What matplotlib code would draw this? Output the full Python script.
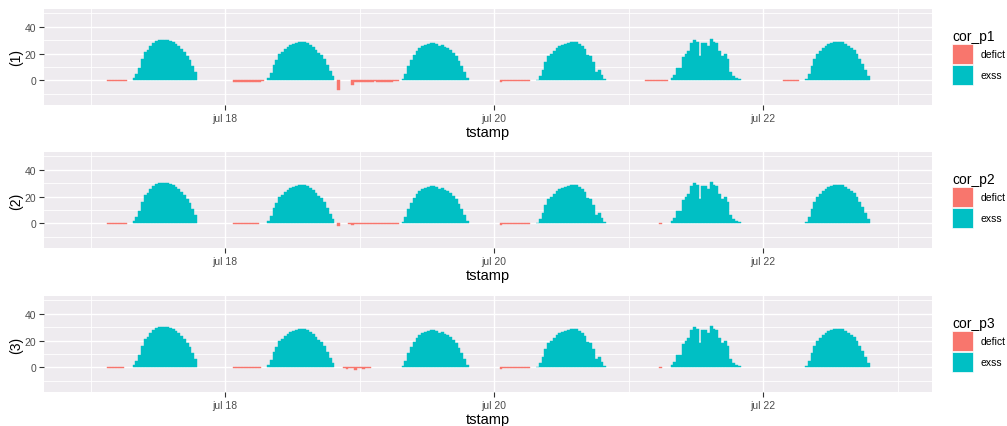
import numpy as np
import pandas as pd
import matplotlib
matplotlib.use("Agg")
import matplotlib.pyplot as plt
import matplotlib.dates as mdates
from matplotlib.patches import Patch

plt.rcParams['font.family'] = ['Liberation Sans', 'DejaVu Sans']

# Half-hourly readings. Exss days start at 07:30, one value per 30 min.
day0 = pd.Timestamp('2023-07-17')
exss_start_hour = 7.5
exss_jul17 = [2, 5, 9, 16, 21, 23, 26, 28, 29.5, 30, 30, 30, 29.8, 29.3, 28.5, 27,
              25.5, 23.5, 21, 18, 15, 11, 6.5]
exss_jul18 = [1.5, 5.5, 11.5, 15.5, 19.5, 21.5, 23.5, 25.3, 26.3, 27, 28, 28.7, 28.7,
              28.5, 27.8, 26.5, 25, 23, 20.8, 19, 16, 11.5, 7, 3]
exss_jul19 = [1, 5, 11, 15, 19, 22, 24, 25.5, 26.5, 27, 27.7, 27.7, 27.5, 25.5, 26.5,
              25, 24, 22.5, 20.5, 18, 14.5, 10.5, 6, 2]
exss_jul20 = [0.5, 3, 7.5, 13.5, 18, 20, 21.7, 24, 25.8, 26.7, 27.2, 28, 29, 29, 28.5,
              27.3, 26, 23.5, 19, 18, 14, 6, 8, 4, 1]
exss_jul21 = [1.5, 3.8, 9.5, 9, 17.5, 20, 22, 27.7, 30, 28.5, 18, 27.7, 27.7, 26, 31,
              29, 27.7, 22, 18, 20, 16, 6, 3, 2, 1]
exss_jul22 = [1, 5, 11, 16, 19.5, 22, 24, 26, 27, 28, 28.7, 29, 29, 28.6, 27.5, 26,
              24.5, 22.5, 20, 16, 12, 8, 3]
exss_days = [exss_jul17, exss_jul18, exss_jul19, exss_jul20, exss_jul21, exss_jul22]

# Deficit runs: (hours since jul 17 00:00, half-hourly values)
deficit_p1 = [(3.0, [-0.4, -0.4, -0.5, -0.4, -0.4, -0.5, -0.4]),
              (25.5, [-1.0, -1.0, -1.2, -1.1, -1.0, -1.0, -1.1, -0.9, -1.0, -0.8, -0.6]),
              (44.0, [-7.3]),
              (46.5, [-3.0, -1.0, -0.8, -0.8, -1.0, -0.9, -0.8, -0.8, -0.7, -0.9,
                      -1.1, -1.2, -0.8, -0.9, -0.8, -0.7, -0.6]),
              (73.0, [-1.2, -0.7, -0.6, -0.7, -0.6, -0.6, -0.7, -0.6, -0.6, -0.5, -0.6]),
              (99.0, [-0.5, -0.5, -0.4, -0.5, -0.5, -0.4, -0.5, -0.4]),
              (123.5, [-0.5, -0.4, -0.5, -0.4, -0.5, -0.4])]
deficit_p2 = [(3.0, [-0.4, -0.4, -0.5, -0.4, -0.4, -0.5, -0.4]),
              (25.5, [-0.6, -0.5, -0.6, -0.5, -0.6, -0.5, -0.5, -0.6, -0.5]),
              (44.0, [-1.5]),
              (46.0, [-0.6, -0.8, -0.5, -0.7, -0.6, -0.6, -0.7, -0.5, -0.6, -0.6,
                      -0.5, -0.6, -0.5, -0.6, -0.5, -0.6, -0.5, -0.4]),
              (73.0, [-0.8, -0.6, -0.5, -0.6, -0.5, -0.6, -0.6, -0.5, -0.6, -0.5, -0.5]),
              (101.5, [-0.4])]
deficit_p3 = [(3.0, [-0.4, -0.4, -0.5, -0.4, -0.4, -0.4]),
              (25.5, [-0.6, -0.5, -0.6, -0.5, -0.6, -0.5, -0.5, -0.6, -0.5, -0.5]),
              (45.0, [-0.6, -0.8, -0.7, -0.6, -2.0, -0.7, -0.6, -0.8, -0.6, -0.5]),
              (73.0, [-0.8, -0.6, -0.5, -0.6, -0.5, -0.6, -0.6, -0.5, -0.6, -0.5, -0.5]),
              (101.5, [-0.4])]

panel_labels = ['(1)', '(2)', '(3)']
legend_titles = ['cor_p1', 'cor_p2', 'cor_p3']
deficits = [deficit_p1, deficit_p2, deficit_p3]
col_deficit = '#F8766D'
col_exss = '#00BFC4'


def run_times(start_hour, values):
    return [day0 + pd.Timedelta(hours=start_hour + 0.5 * i) for i in range(len(values))]


exss_t, exss_v = [], []
for d, vals in enumerate(exss_days):
    exss_t += run_times(24 * d + exss_start_hour, vals)
    exss_v += vals

W, H = 1007, 427
fig = plt.figure(figsize=(W / 100, H / 100), dpi=100)
tops = [10, 153, 297]
bw = 0.5 / 24

for k in range(3):
    ax = fig.add_axes([44 / W, 1 - (tops[k] + 96) / H, 888 / W, 96 / H])
    ax.set_facecolor('#EEEBEF')
    dt, dv = [], []
    for start, vals in deficits[k]:
        dt += run_times(start, vals)
        dv += vals
    ax.bar(exss_t, exss_v, width=bw, color=col_exss, edgecolor=col_exss,
           align='edge', linewidth=0.3, zorder=3)
    ax.bar(dt, dv, width=bw, color=col_deficit, edgecolor=col_deficit,
           align='edge', linewidth=0.3, zorder=3)

    ax.set_xlim(pd.Timestamp('2023-07-16 15:42'), pd.Timestamp('2023-07-23 06:09'))
    ax.set_ylim(-18.25, 53.25)
    ax.set_xticks(pd.to_datetime(['2023-07-18', '2023-07-20', '2023-07-22']))
    ax.set_xticks(pd.to_datetime(['2023-07-17', '2023-07-19', '2023-07-21', '2023-07-23']),
                  minor=True)
    ax.xaxis.set_major_formatter(mdates.DateFormatter('jul %d'))
    ax.set_yticks([0, 20, 40])
    ax.set_yticks([-10, 10, 30, 50], minor=True)
    ax.grid(which='major', color='white', linewidth=1.0, zorder=0)
    ax.grid(which='minor', color='white', linewidth=0.6, zorder=0)
    ax.set_axisbelow(True)
    for s in ax.spines.values():
        s.set_visible(False)
    ax.tick_params(which='major', length=3.5, width=0.8, color='#333333',
                   labelsize=7.5, labelcolor='#4D4D4D', pad=2)
    ax.tick_params(which='minor', length=0)
    ax.set_xlabel('tstamp', fontsize=10.5, labelpad=2)
    ax.set_ylabel(panel_labels[k], fontsize=10, labelpad=1)

    handles = [Patch(facecolor=col_deficit, edgecolor='white', linewidth=0.5),
               Patch(facecolor=col_exss, edgecolor='white', linewidth=0.5)]
    ax.legend(handles, ['defict', 'exss'], title=legend_titles[k],
              loc='center left', bbox_to_anchor=(1.0225, 0.5), frameon=False,
              fontsize=7.5, title_fontsize=10, borderpad=0, borderaxespad=0,
              handlelength=2.0, handleheight=2.6, handletextpad=0.75,
              labelspacing=0.05, alignment='left')

fig.savefig('out.png', dpi=100)
